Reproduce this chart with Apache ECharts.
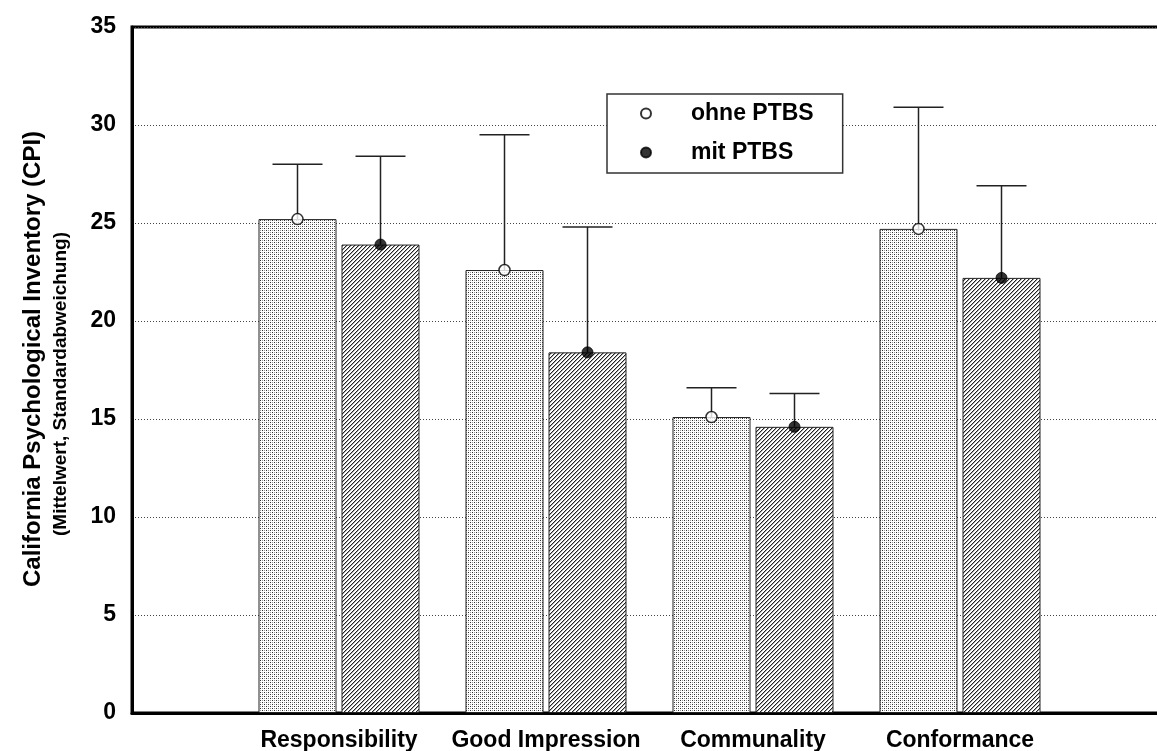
<!DOCTYPE html>
<html>
<head>
<meta charset="utf-8">
<script src="https://cdn.jsdelivr.net/npm/echarts@6/dist/echarts.min.js"></script>
<style>
html,body{margin:0;padding:0;background:#fff;}
#chart{width:1157px;height:751px;}
</style>
</head>
<body>
<div id="chart"></div>
<script>
// ---- data ----
const categories = ['Responsibility', 'Good Impression', 'Communality', 'Conformance'];
const ohneMean = [25.2, 22.6, 15.1, 24.7];
const ohneSD   = [2.8, 6.9, 1.5, 6.2];
const mitMean  = [23.9, 18.4, 14.6, 22.2];
const mitSD    = [4.5, 6.4, 1.7, 4.7];
const yTicks   = [0, 5, 10, 15, 20, 25, 30, 35];

// ---- patterns ----
function dotPattern() {
  const c = document.createElement('canvas'); c.width = 4; c.height = 4;
  const g = c.getContext('2d');
  g.fillStyle = '#fff'; g.fillRect(0, 0, 4, 4);
  g.fillStyle = '#333'; g.fillRect(0, 0, 1, 1); g.fillRect(2, 2, 1, 1);
  g.fillStyle = '#999'; g.fillRect(2, 0, 1, 1); g.fillRect(0, 2, 1, 1);
  return c;
}
function hatchPattern() {
  const c = document.createElement('canvas'); c.width = 4; c.height = 4;
  const g = c.getContext('2d');
  g.fillStyle = '#fff'; g.fillRect(0, 0, 4, 4);
  g.fillStyle = '#aaa';
  g.fillRect(0, 0, 1, 1); g.fillRect(3, 1, 1, 1); g.fillRect(2, 2, 1, 1); g.fillRect(1, 3, 1, 1);
  g.fillStyle = '#222';
  g.fillRect(3, 0, 1, 1); g.fillRect(2, 1, 1, 1); g.fillRect(1, 2, 1, 1); g.fillRect(0, 3, 1, 1);
  return c;
}

const axisCats = [''].concat(categories, ['']);
const pad = v => ['-'].concat(v, ['-']);
const BAR_W = 78, GAP = 5;
const OFF = (BAR_W + GAP) / 2;
const FONT = '"Liberation Sans", Arial, sans-serif';

function errData(mean, sd) {
  return categories.map((c, i) => [c, mean[i], sd[i]]);
}
function errRender(offset) {
  return function (params, api) {
    const base = api.coord([api.value(0), api.value(1)]);
    const top = api.coord([api.value(0), api.value(1) + api.value(2)]);
    const x = base[0] + offset;
    const st = { stroke: '#222', lineWidth: 1.5 };
    return {
      type: 'group',
      children: [
        { type: 'line', shape: { x1: x, y1: base[1], x2: x, y2: top[1] }, style: st },
        { type: 'line', shape: { x1: x - 25, y1: top[1], x2: x + 25, y2: top[1] }, style: st }
      ]
    };
  };
}

const chart = echarts.init(document.getElementById('chart'), null, { renderer: 'canvas' });
chart.setOption({
  backgroundColor: '#fff',
  animation: false,
  textStyle: { fontFamily: FONT },
  grid: {
    left: 132, top: 27, width: 1035, height: 686,
    outerBoundsMode: 'none', containLabel: false,
    show: true, borderColor: '#000', borderWidth: 3, backgroundColor: 'transparent'
  },
  legend: {
    data: ['ohne PTBS', 'mit PTBS'],
    orient: 'vertical',
    left: 607, top: 94,
    padding: [8, 29, 9, 33],
    itemWidth: 10, itemHeight: 10, itemGap: 16,
    backgroundColor: '#fff',
    borderColor: '#333', borderWidth: 1.5,
    textStyle: { fontFamily: FONT, fontWeight: 'bold', fontSize: 23, color: '#000', lineHeight: 23, padding: [0, 0, 0, 35] }
  },
  xAxis: {
    type: 'category',
    data: axisCats,
    boundaryGap: false,
    axisLine: { lineStyle: { color: '#000', width: 3 } },
    axisTick: { show: false },
    axisLabel: { interval: 0, margin: 16, fontFamily: FONT, fontWeight: 'bold', fontSize: 23, color: '#000' },
    splitLine: { show: false }
  },
  yAxis: {
    type: 'value',
    min: yTicks[0], max: yTicks[yTicks.length - 1], interval: 5,
    axisLine: { show: true, lineStyle: { color: '#000', width: 3 } },
    axisTick: { show: false },
    axisLabel: { margin: 16, fontFamily: FONT, fontWeight: 'bold', fontSize: 23, color: '#000' },
    splitLine: { show: true, lineStyle: { type: [1, 2], color: '#444', width: 1 } }
  },
  graphic: [
    {
      type: 'text', x: 33, y: 359, rotation: Math.PI / 2, z: 10,
      style: {
        text: 'California Psychological Inventory (CPI)',
        font: 'bold 24px ' + FONT, fill: '#000', textAlign: 'center', textVerticalAlign: 'middle'
      }
    },
    {
      type: 'text', x: 61, y: 384, rotation: Math.PI / 2, z: 10,
      style: {
        text: '(Mittelwert, Standardabweichung)',
        font: 'bold 19px ' + FONT, fill: '#000', textAlign: 'center', textVerticalAlign: 'middle'
      }
    }
  ],
  series: [
    {
      name: 'ohne PTBS (Balken)', type: 'bar', data: pad(ohneMean),
      barWidth: BAR_W, barGap: (GAP / BAR_W * 100) + '%', z: 2,
      itemStyle: { color: { image: dotPattern(), repeat: 'repeat' }, borderColor: '#222', borderWidth: 1 }
    },
    {
      name: 'mit PTBS (Balken)', type: 'bar', data: pad(mitMean),
      barWidth: BAR_W, barGap: (GAP / BAR_W * 100) + '%', z: 2,
      itemStyle: { color: { image: hatchPattern(), repeat: 'repeat' }, borderColor: '#222', borderWidth: 1 }
    },
    {
      name: 'ohne SD', type: 'custom', data: errData(ohneMean, ohneSD),
      renderItem: errRender(-OFF), z: 3, encode: { x: 0, y: 1 }
    },
    {
      name: 'mit SD', type: 'custom', data: errData(mitMean, mitSD),
      renderItem: errRender(OFF), z: 3, encode: { x: 0, y: 1 }
    },
    {
      name: 'ohne PTBS', type: 'scatter', data: pad(ohneMean),
      symbol: 'circle', symbolSize: 11, symbolOffset: [-OFF, 0], z: 4,
      itemStyle: { color: '#fff', borderColor: '#000', borderWidth: 1.5 }
    },
    {
      name: 'mit PTBS', type: 'scatter', data: pad(mitMean),
      symbol: 'circle', symbolSize: 11, symbolOffset: [OFF, 0], z: 4,
      itemStyle: { color: '#000', borderColor: '#000', borderWidth: 1 }
    }
  ]
});
</script>
</body>
</html>
